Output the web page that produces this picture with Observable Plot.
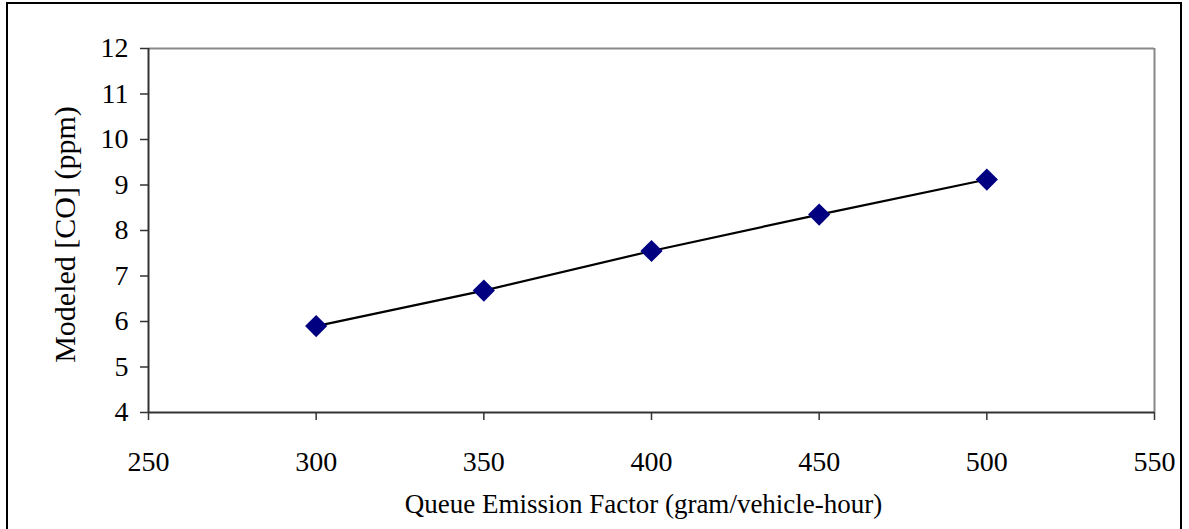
<!DOCTYPE html>
<html><head><meta charset="utf-8">
<script src="https://cdn.jsdelivr.net/npm/d3@7"></script>
<script src="https://cdn.jsdelivr.net/npm/@observablehq/plot@0.6"></script>
<style>
body{margin:0;background:#fff;}
#wrap{position:relative;width:1189px;height:529px;overflow:hidden;}
#border{position:absolute;left:6px;top:2px;width:1172px;height:600px;border:2px solid #000;pointer-events:none;}
</style></head><body><div id="wrap"><div id="border"></div></div>
<script>
const emission = [300, 350, 400, 450, 500];
const co = [5.9, 6.68, 7.55, 8.35, 9.12];
const xTicks = [250, 300, 350, 400, 450, 500, 550];
const yTicks = [4, 5, 6, 7, 8, 9, 10, 11, 12];
const xLabel = "Queue Emission Factor (gram/vehicle-hour)";
const yLabel = "Modeled [CO] (ppm)";

const data = emission.map((x, i) => ({x, y: co[i]}));
const font = "'Liberation Serif', 'Times New Roman', serif";

const chart = Plot.plot({
  width: 1189, height: 529,
  marginLeft: 148, marginRight: 35, marginTop: 48, marginBottom: 117,
  style: {fontFamily: font, color: "#000", background: "#fff", overflow: "visible"},
  x: {domain: [250, 550]},
  y: {domain: [4, 12]},
  marks: [
    Plot.ruleY([12], {stroke: "#888", strokeWidth: 2}),
    Plot.ruleX([550], {stroke: "#888", strokeWidth: 2}),
    Plot.axisX({ticks: xTicks, tickSize: 8, tickPadding: 31, label: null, fontSize: 28, stroke: "#333", strokeWidth: 1.5, strokeOpacity: 1, fill: "#000"}),
    Plot.axisY({ticks: yTicks, tickSize: 8, tickPadding: 12, label: null, fontSize: 28, stroke: "#333", strokeWidth: 1.5, strokeOpacity: 1, fill: "#000"}),
    Plot.ruleX([250], {stroke: "#333", strokeWidth: 2}),
    Plot.ruleY([4], {stroke: "#333", strokeWidth: 2}),
    Plot.line(data, {x: "x", y: "y", stroke: "#000", strokeWidth: 2.2}),
    Plot.dot(data, {x: "x", y: "y", symbol: "diamond2", r: 10, fill: "#000080", stroke: "none"}),
    Plot.text([xLabel], {frameAnchor: "bottom", dx: -8, dy: 92, textAnchor: "middle", lineAnchor: "middle", fontSize: 27, fill: "#000"}),
    Plot.text([yLabel], {frameAnchor: "left", dx: -83, dy: 4, rotate: -90, textAnchor: "middle", lineAnchor: "middle", fontSize: 30, fill: "#000"})
  ]
});
document.getElementById("wrap").prepend(chart);
</script>
</body></html>
